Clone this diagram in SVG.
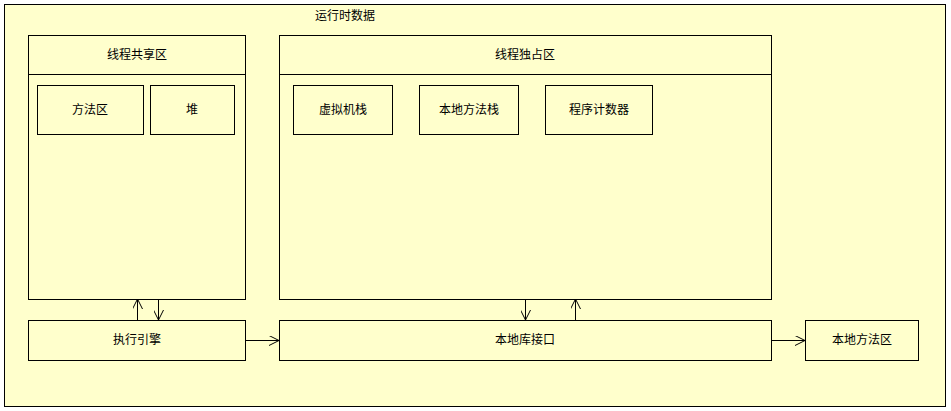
<svg xmlns="http://www.w3.org/2000/svg" width="951" height="411" viewBox="0 0 951 411">
<style>
.b{fill:#ffffcc;stroke:#000;stroke-width:1}
.t{font-family:"Liberation Sans","Noto Sans CJK SC",sans-serif;font-size:12px;fill:#000;text-anchor:middle;dominant-baseline:central}
.c{stroke:#000;stroke-width:1;fill:none;marker-end:url(#a)}
</style>
<defs><marker id="a" viewBox="0 0 10 10" refX="10" refY="5" markerWidth="10" markerHeight="10" markerUnits="userSpaceOnUse" orient="auto"><path d="M0,0L10,5L0,10" fill="none" stroke="#000"/></marker></defs>
<g id="runtime"><rect class="b" x="4.5" y="4.5" width="941" height="402"/><text class="t" x="345" y="16">运行时数据</text></g>
<g id="shared"><rect class="b" x="28.5" y="35.5" width="217" height="264"/><line x1="28.5" y1="74.5" x2="245.5" y2="74.5" stroke="#000"/><text class="t" x="137" y="55">线程共享区</text></g>
<g id="method"><rect class="b" x="37.5" y="85.5" width="106" height="49"/><text class="t" x="90" y="110">方法区</text></g>
<g id="heap"><rect class="b" x="150.5" y="85.5" width="84" height="49"/><text class="t" x="192" y="110">堆</text></g>
<g id="private"><rect class="b" x="279.5" y="35.5" width="492" height="264"/><line x1="279.5" y1="74.5" x2="771.5" y2="74.5" stroke="#000"/><text class="t" x="525" y="55">线程独占区</text></g>
<g id="vmstack"><rect class="b" x="293.5" y="85.5" width="99" height="49"/><text class="t" x="343" y="110">虚拟机栈</text></g>
<g id="nstack"><rect class="b" x="419.5" y="85.5" width="99" height="49"/><text class="t" x="469" y="110">本地方法栈</text></g>
<g id="pc"><rect class="b" x="545.5" y="85.5" width="107" height="49"/><text class="t" x="599" y="110">程序计数器</text></g>
<g id="engine"><rect class="b" x="28.5" y="320.5" width="217" height="40"/><text class="t" x="137" y="340">执行引擎</text></g>
<g id="nlib"><rect class="b" x="279.5" y="320.5" width="492" height="40"/><text class="t" x="525" y="340">本地库接口</text></g>
<g id="narea"><rect class="b" x="805.5" y="320.5" width="113" height="40"/><text class="t" x="862" y="340">本地方法区</text></g>
<g id="connectors">
<line class="c" x1="137.5" y1="320" x2="137.5" y2="299"/>
<line class="c" x1="158.5" y1="299" x2="158.5" y2="320"/>
<line class="c" x1="525.5" y1="299" x2="525.5" y2="320"/>
<line class="c" x1="575.5" y1="320" x2="575.5" y2="299"/>
<line class="c" x1="245" y1="340.5" x2="279" y2="340.5"/>
<line class="c" x1="771" y1="340.5" x2="805" y2="340.5"/>
</g>
</svg>
